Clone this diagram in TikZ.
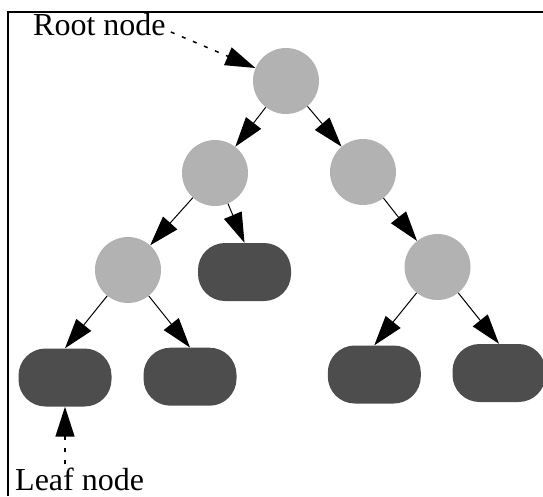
\documentclass[tikz,border=0pt]{standalone}
\usepackage{fontspec}
\setmainfont{Liberation Serif}
\usetikzlibrary{arrows.meta}

\begin{document}
\begin{tikzpicture}[x=1pt, y=-1pt, >={Triangle[length=30pt,width=19pt]},
		branch/.style={circle, fill=branchgray, minimum size=66pt, inner sep=0pt},
		leaf/.style={rectangle, rounded corners=27pt, fill=leafgray, minimum width=93pt, minimum height=58pt},
		link/.style={->, line width=1pt},
		pointer/.style={->, line width=1.5pt, dash pattern=on 4pt off 8pt},
		note/.style={inner sep=0pt, anchor=base west, font=\fontsize{32}{38}\selectfont}]
	\definecolor{branchgray}{RGB}{178,178,178}
	\definecolor{leafgray}{RGB}{77,77,77}
	\useasboundingbox (0,0) rectangle (543,496);
	\draw[line width=2pt] (8,496) -- (8,12) -- (543,12);
	% inner nodes
	\node[branch] (root) at (286,81) {};
	\node[branch] (l) at (215,173) {};
	\node[branch] (r) at (363,172) {};
	\node[branch] (ll) at (128,270) {};
	\node[branch] (rr) at (437.5,267) {};
	% leaves
	\node[leaf] (lr) at (244.5,272) {};
	\node[leaf] (lll) at (65,377.5) {};
	\node[leaf] (llr) at (190,376.7) {};
	\node[leaf] (rrl) at (374.3,374.5) {};
	\node[leaf] (rrr) at (499,373) {};
	\draw[link] (root) -- (l);
	\draw[link] (root) -- (r);
	\draw[link] (l) -- (ll);
	\draw[link] (l) -- (lr.north);
	\draw[link] (r) -- (rr);
	\draw[link] (ll) -- (lll.north);
	\draw[link] (ll) -- (llr.north);
	\draw[link] (rr) -- (rrl.north);
	\draw[link] (rr) -- (rrr.north);
	% labels
	\node[note] (rootnote) at (33,35) {Root node};
	\node[note] (leafnote) at (15,490) {Leaf node};
	\draw[pointer] ([xshift=5pt,yshift=3pt]rootnote.base east) -- (root);
	\draw[pointer] ([yshift=3pt]leafnote.north -| lll.south) -- (lll.south);
\end{tikzpicture}
\end{document}
